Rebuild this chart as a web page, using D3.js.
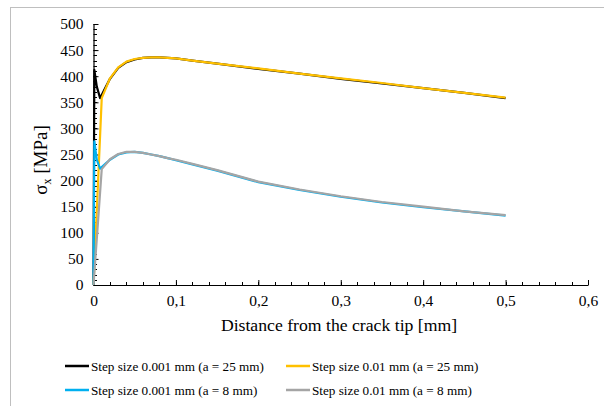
<!DOCTYPE html>
<html>
<head>
<meta charset="utf-8">
<script src="https://cdn.jsdelivr.net/npm/d3@7"></script>
<style>
  body { margin: 0; background: #fff; }
  text { font-family: "Liberation Serif", serif; fill: #000; }
</style>
</head>
<body>
<div id="chart"></div>
<script>
// values
var xFine = [0, 0.001, 0.004, 0.008, 0.015, 0.02, 0.03, 0.04, 0.05, 0.06, 0.07, 0.08, 0.09, 0.1, 0.12, 0.15, 0.2, 0.25, 0.3, 0.35, 0.4, 0.45, 0.5];
var xCoarse = [0, 0.01, 0.02, 0.03, 0.04, 0.05, 0.06, 0.07, 0.08, 0.09, 0.1, 0.12, 0.15, 0.2, 0.25, 0.3, 0.35, 0.4, 0.45, 0.5];

var fine25 = [0, 412, 380, 358, 380, 395, 416, 427, 432, 435, 436, 436, 435, 434, 430, 424, 414, 405, 395, 386, 377, 368, 358];
var coarse25 = [0, 358, 396, 417, 428, 433, 435, 436, 436, 435, 434, 430, 424, 415, 405, 396, 387, 377, 368, 359];
var fine8 = [0, 275, 240, 223, 233, 240, 250, 254, 255, 253, 250, 247, 243, 239, 231, 219, 197, 182, 169, 158, 149, 141, 133];
var coarse8 = [0, 222, 241, 251, 255, 255, 253, 250, 247, 243, 240, 232, 220, 198, 183, 170, 159, 150, 141, 134];

var seriesNames = ['Step size 0.001 mm (a = 25 mm)', 'Step size 0.01 mm (a = 25 mm)',
                   'Step size 0.001 mm (a = 8 mm)', 'Step size 0.01 mm (a = 8 mm)'];
var seriesColors = ['#000000', '#FFC000', '#00B0F0', '#A5A5A5'];

var xTicks = [0, 0.1, 0.2, 0.3, 0.4, 0.5, 0.6];
var yTicks = [0, 50, 100, 150, 200, 250, 300, 350, 400, 450, 500];

var svgWidth = 604, svgHeight = 406;
var svg = d3.select('#chart').append('svg')
    .attr('width', svgWidth)
    .attr('height', svgHeight);

// outer chart frame
svg.append('rect')
    .attr('x', 10.5).attr('y', 7.5)
    .attr('width', 620).attr('height', 420)
    .attr('fill', 'none')
    .attr('stroke', '#bfbfbf')
    .attr('stroke-width', 1);

var x = d3.scaleLinear().domain([0, 0.6]).range([93.5, 588]);
var y = d3.scaleLinear().domain([0, 500]).range([285, 24]);

// minor ticks (inside)
var minorX = d3.range(0, 0.6001, 0.02);
var minorY = d3.range(0, 500.1, 10);
svg.append('g').selectAll('line').data(minorX).enter().append('line')
    .attr('x1', d => Math.round(x(d)) + 0.5).attr('x2', d => Math.round(x(d)) + 0.5)
    .attr('y1', 285).attr('y2', 282)
    .attr('stroke', '#000');
svg.append('g').selectAll('line').data(minorY).enter().append('line')
    .attr('x1', 93.5).attr('x2', 97)
    .attr('y1', d => Math.round(y(d)) + 0.5).attr('y2', d => Math.round(y(d)) + 0.5)
    .attr('stroke', '#000');

// axes
var xAxis = d3.axisBottom(x).tickValues(xTicks).tickSizeInner(-5).tickSizeOuter(0)
    .tickFormat(d => d === 0 ? '0' : d3.format('.1f')(d).replace('.', ','));
var yAxis = d3.axisLeft(y).tickValues(yTicks).tickSizeInner(-5).tickSizeOuter(0);

var gx = svg.append('g').attr('transform', 'translate(0,285)').call(xAxis);
var gy = svg.append('g').attr('transform', 'translate(93.5,0)').call(yAxis);
[gx, gy].forEach(function(g) {
    g.select('.domain').attr('stroke', '#000').attr('stroke-width', 1.2);
    g.selectAll('.tick line').attr('stroke', '#000');
    g.selectAll('.tick text')
        .style('font-family', '"Liberation Serif", serif')
        .style('font-size', '15.5px')
        .attr('fill', '#000');
});
gx.selectAll('.tick text').attr('y', 10).attr('dy', '0.71em');
gy.selectAll('.tick text').attr('x', -10);

// axis titles
svg.append('text')
    .attr('x', 339).attr('y', 331)
    .attr('text-anchor', 'middle')
    .style('font-size', '17.7px')
    .text('Distance from the crack tip [mm]');

var yTitle = svg.append('text')
    .attr('transform', 'translate(47,160) rotate(-90)')
    .attr('text-anchor', 'middle')
    .style('font-size', '19px');
yTitle.append('tspan').text('σ');
yTitle.append('tspan').attr('dy', 4).style('font-size', '12px').text('x');
yTitle.append('tspan').attr('dy', -4).text(' [MPa]');

// lines
var line = d3.line().x(d => x(d[0])).y(d => y(d[1]));
var seriesData = [
    d3.zip(xFine, fine25),
    d3.zip(xCoarse, coarse25),
    d3.zip(xFine, fine8),
    d3.zip(xCoarse, coarse8)
];
svg.append('g').selectAll('path').data(seriesData).enter().append('path')
    .attr('d', line)
    .attr('fill', 'none')
    .attr('stroke', (d, i) => seriesColors[i])
    .attr('stroke-width', 2.2)
    .attr('stroke-linejoin', 'round');

// legend
var legendPos = [[65, 366], [286, 366], [65, 390], [286, 390]];
var legend = svg.append('g').selectAll('g').data(seriesNames).enter().append('g')
    .attr('transform', (d, i) => `translate(${legendPos[i][0]},${legendPos[i][1]})`);
legend.append('line')
    .attr('x1', 0).attr('x2', 24)
    .attr('stroke', (d, i) => seriesColors[i])
    .attr('stroke-width', 2.5);
legend.append('text')
    .attr('x', 26).attr('dy', '0.35em')
    .style('font-size', '13.2px')
    .text(d => d);
</script>
</body>
</html>
